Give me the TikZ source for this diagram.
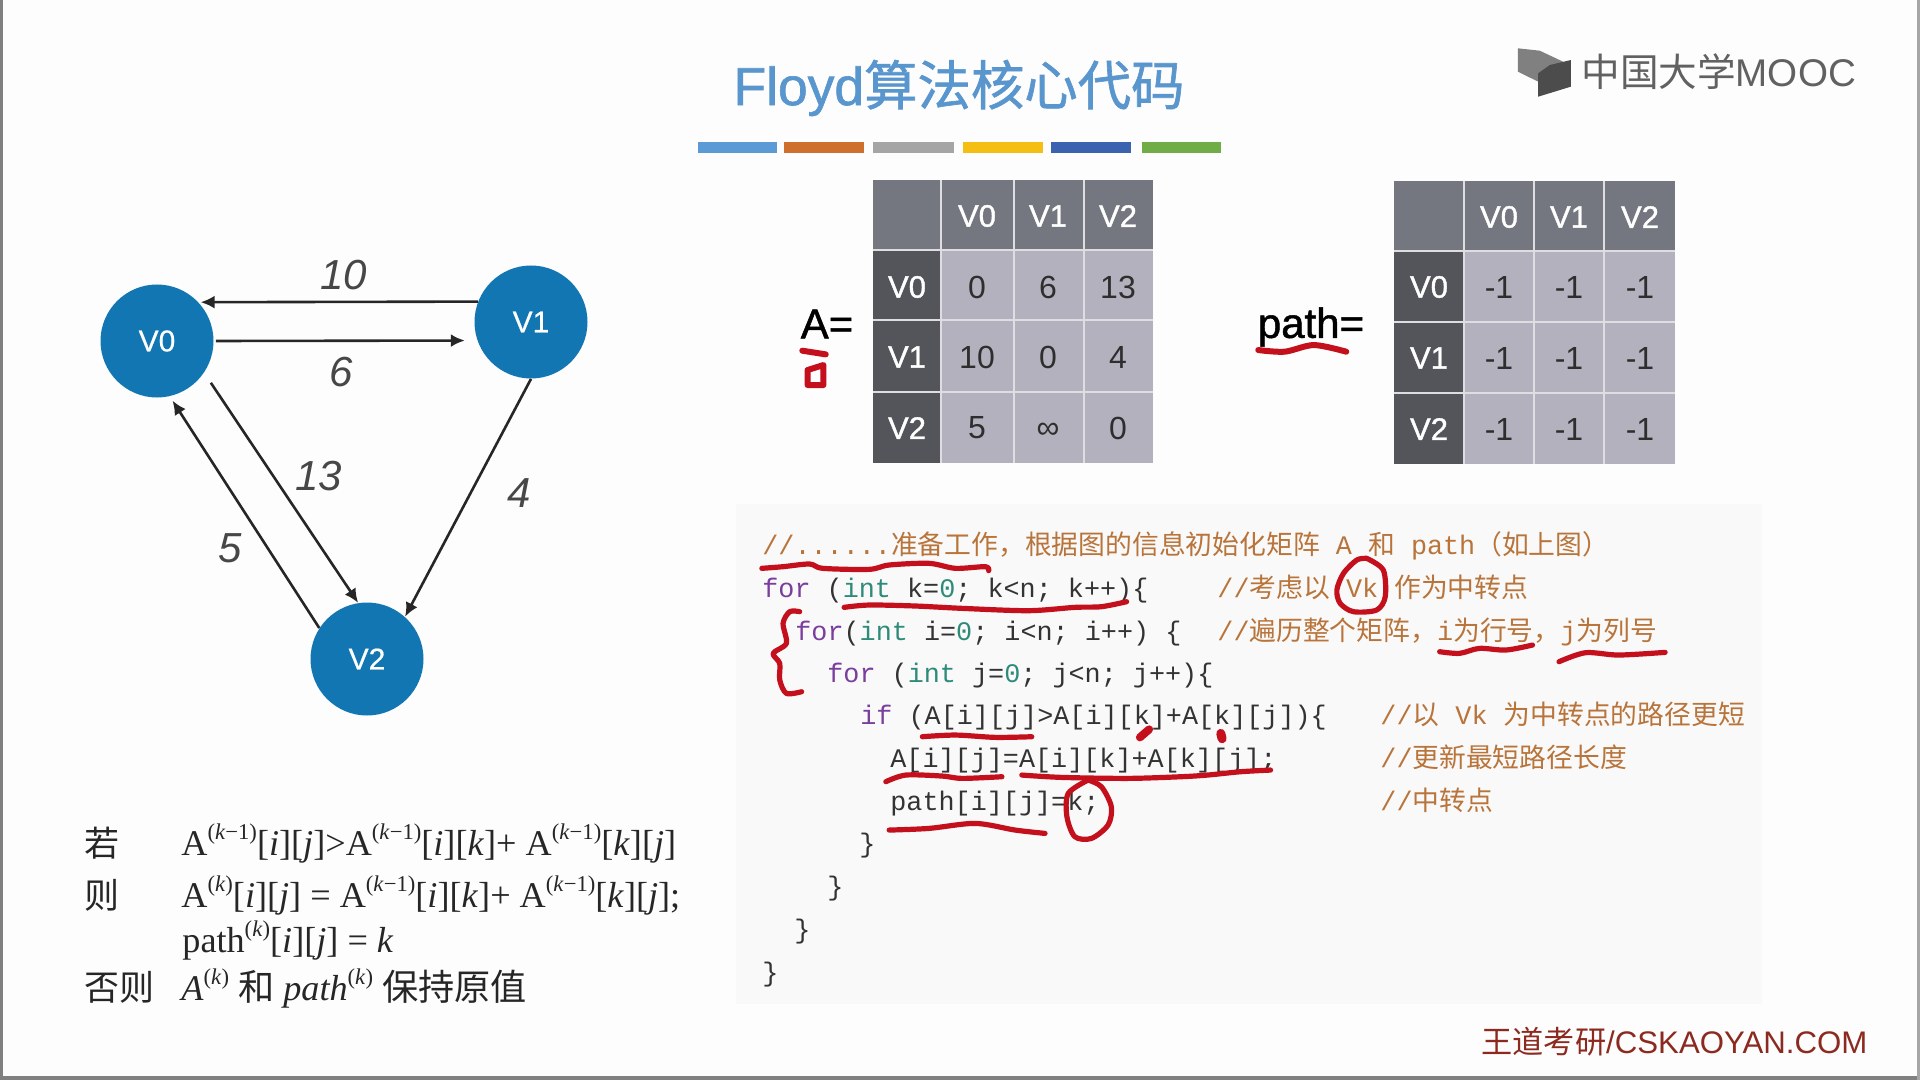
\documentclass[tikz,border=0pt]{standalone}
\usepackage{fontspec}
\setmainfont{Liberation Sans}
\setmonofont{Liberation Mono}
\newfontfamily\cjk{Noto Sans CJK SC}
\newfontfamily\serifface{Liberation Serif}
\newfontfamily\medface[FakeBold=1.2]{Liberation Sans}
\newfontfamily\lightbold[FakeBold=0.6]{Liberation Sans}
\newfontfamily\cjkmed[FakeBold=1.2]{Noto Sans CJK SC}
\usetikzlibrary{arrows.meta}
\definecolor{pagebg}{HTML}{FDFDFD}
\definecolor{codebg}{HTML}{F9F9F9}
\definecolor{nodeblue}{HTML}{1276B2}
\definecolor{titleblue}{HTML}{5A96CE}
\definecolor{headgray}{HTML}{74777F}
\definecolor{rowgray}{HTML}{53555B}
\definecolor{cellgray}{HTML}{B3B1BD}
\definecolor{gridgray}{HTML}{DDDDE2}
\definecolor{ckwc}{HTML}{7A3E9D}
\definecolor{ctyc}{HTML}{2E8B7A}
\definecolor{ccmc}{HTML}{B8743A}
\definecolor{codetext}{HTML}{333333}
\definecolor{inkred}{HTML}{C4101C}
\definecolor{brandred}{HTML}{8C2A20}
\definecolor{barA}{HTML}{5B9BD5}
\definecolor{barB}{HTML}{CF6F2E}
\definecolor{barC}{HTML}{A5A5A5}
\definecolor{barD}{HTML}{F4BF12}
\definecolor{barE}{HTML}{3B62AE}
\definecolor{barF}{HTML}{70AD47}
\newcommand{\ckw}[1]{\textcolor{ckwc}{#1}}
\newcommand{\cty}[1]{\textcolor{ctyc}{#1}}
\newcommand{\cnum}[1]{\textcolor{ctyc}{#1}}
\newcommand{\zh}[1]{{\cjk #1}}
\newcommand{\sps}[1]{\raisebox{0.42em}{\fontsize{11.3}{12}\selectfont #1}}
\newcommand{\supkm}{\sps{(\textit{k}−1)}}
\newcommand{\supkk}{\sps{(\textit{k})}}
\newcommand{\idxij}{[\textit{i}][\textit{j}]}
\newcommand{\idxik}{[\textit{i}][\textit{k}]}
\newcommand{\idxkj}{[\textit{k}][\textit{j}]}
\newcommand{\vtext}[1]{\raisebox{-1.4pt}{#1}}
\tikzset{
  vertex/.style={circle,fill=nodeblue,text=white,inner sep=0pt,minimum size=56.5pt,font=\fontsize{15}{18}\selectfont\lightbold},
  edge/.style={draw=black!85,line width=1.3pt,-{Latex[length=7pt,width=6.5pt]}},
  weight/.style={font=\fontsize{21}{24}\selectfont\itshape,text=black!72,inner sep=0pt},
  hcell/.style={text=white,font=\fontsize{15.5}{18}\selectfont\medface,inner sep=0pt},
  vcell/.style={text=black!82,font=\fontsize{16}{18}\selectfont,inner sep=0pt},
  code/.style={anchor=base west,inner sep=0pt,text=codetext,font=\fontsize{13.4}{16}\selectfont\ttfamily},
  comment/.style={code,text=ccmc},
  formula/.style={anchor=base west,inner sep=0pt,text=black!85,font=\fontsize{18.1}{20}\selectfont\serifface},
  zhlabel/.style={anchor=base west,inner sep=0pt,text=black!85,font=\fontsize{17.5}{20}\selectfont\cjk},
  ink/.style={draw=inkred,line width=2.6pt,line cap=round,line join=round},
  eqlabel/.style={inner sep=0pt,text=black,font=\fontsize{21}{24}\selectfont\medface}
}
\begin{document}
\begin{tikzpicture}[x=0.5pt,y=-0.5pt]
\useasboundingbox (0,0) rectangle (1920,1080);
\fill[pagebg] (0,0) rectangle (1920,1080);
\fill[black!50] (0,0) rectangle (3,1080);
\fill[black!50] (0,1076) rectangle (1920,1080);
\fill[black!35] (1917,0) rectangle (1920,1080);

% title and colour bars
\node[inner sep=0pt,text=titleblue,font=\fontsize{26.7}{30}\selectfont] (title) at (959,88) {\medface Floyd{\cjkmed 算法核心代码}};
\fill[barA] (698,142) rectangle (777,153);
\fill[barB] (784,142) rectangle (864,153);
\fill[barC] (873,142) rectangle (954,153);
\fill[barD] (963,142) rectangle (1043,153);
\fill[barE] (1051,142) rectangle (1131,153);
\fill[barF] (1142,142) rectangle (1221,153);

% logo
\begin{scope}[shift={(680,30)},x=0.389pt,y=-0.1667pt]
\fill[black!50] (1077,55) -- (1105,62) -- (1135,95) -- (1105,130) -- (1103,155) -- (1077,125) -- cycle;
\fill[black!70] (1145,90) -- (1145,170) -- (1103,200) -- (1103,130) -- (1118,105) -- cycle;
\end{scope}
\node[inner sep=0pt,text=black!62,font=\fontsize{19.3}{22}\selectfont,anchor=west] (logo) at (1581,72) {\zh{中国大学}MOOC};

% brand
\node[inner sep=0pt,text=brandred,font=\fontsize{15.6}{20}\selectfont,anchor=west] (brand) at (1481,1042) {\zh{王道考研}/CSKAOYAN.COM};

% graph
\node[vertex] (v0) at (157,341) {\vtext{V0}};
\node[vertex] (v1) at (531,322) {\vtext{V1}};
\node[vertex] (v2) at (367,659) {\vtext{V2}};
\draw[edge,shorten <=1pt,shorten >=6.2pt] (v0.0) -- (v1.199.3);
\draw[edge,shorten >=1pt] (v1.159) -- (v0.43.6);
\draw[edge,shorten <=6pt] (v0.-34.2) -- (v2.99.5);
\draw[edge,shorten >=2.5pt] (v2.147.9) -- (v0.-77);
\draw[edge] (v1.-90) -- (v2.48);
\node[weight] (w10) at (344,275) {10};
\node[weight] (w6) at (341,372) {6};
\node[weight] (w13) at (319,476) {13};
\node[weight] (w5) at (230,548) {5};
\node[weight] (w4) at (519,493) {4};

% matrix A
\fill[cellgray] (873,180) rectangle (1153,463);
\fill[headgray] (873,180) rectangle (1153,250);
\fill[rowgray] (873,250) rectangle (941,463);
\draw[gridgray,line width=0.9pt] (873,250) -- (1153,250) (873,320) -- (1153,320) (873,392) -- (1153,392) (941,180) -- (941,463) (1014,180) -- (1014,463) (1084,180) -- (1084,463);
\node[hcell] (ah0) at (977,216) {V0};
\node[hcell] (ah1) at (1048,216) {V1};
\node[hcell] (ah2) at (1118,216) {V2};
\node[hcell] (ar0) at (907,287) {V0};
\node[hcell] (ar1) at (907,357) {V1};
\node[hcell] (ar2) at (907,428) {V2};
\node[vcell] (a00) at (977,287) {0};
\node[vcell] (a01) at (1048,287) {6};
\node[vcell] (a02) at (1118,287) {13};
\node[vcell] (a10) at (977,357) {10};
\node[vcell] (a11) at (1048,357) {0};
\node[vcell] (a12) at (1118,357) {4};
\node[vcell] (a20) at (977,428) {5};
\node[vcell] (a21) at (1048,431) {∞};
\node[vcell] (a22) at (1118,428) {0};
\node[eqlabel] (aeq) at (827,324) {A=};

% matrix path
\fill[cellgray] (1394,181) rectangle (1675,464);
\fill[headgray] (1394,181) rectangle (1675,251);
\fill[rowgray] (1394,251) rectangle (1464,464);
\draw[gridgray,line width=0.9pt] (1394,251) -- (1675,251) (1394,322) -- (1675,322) (1394,393) -- (1675,393) (1464,181) -- (1464,464) (1534,181) -- (1534,464) (1604,181) -- (1604,464);
\node[hcell] (ph0) at (1499,217) {V0};
\node[hcell] (ph1) at (1569,217) {V1};
\node[hcell] (ph2) at (1640,217) {V2};
\node[hcell] (pr0) at (1429,287) {V0};
\node[hcell] (pr1) at (1429,358) {V1};
\node[hcell] (pr2) at (1429,429) {V2};
\node[vcell] (p00) at (1499,287) {-1};
\node[vcell] (p01) at (1569,287) {-1};
\node[vcell] (p02) at (1640,287) {-1};
\node[vcell] (p10) at (1499,358) {-1};
\node[vcell] (p11) at (1569,358) {-1};
\node[vcell] (p12) at (1640,358) {-1};
\node[vcell] (p20) at (1499,429) {-1};
\node[vcell] (p21) at (1569,429) {-1};
\node[vcell] (p22) at (1640,429) {-1};
\node[eqlabel] (peq) at (1311,327) {path=};

% code
\fill[codebg] (736,504) rectangle (1762,1004);
\node[comment] (c1) at (762,554) {//......\zh{准备工作，根据图的信息初始化矩阵}\ A\ \zh{和}\ path\zh{（如上图）}};
\node[code] (c2) at (762,597) {\ckw{for}\ (\cty{int}\ k=\cnum{0};\ k<n;\ k++)\{};
\node[comment] (c2c) at (1217,597) {//\zh{考虑以}\ Vk\ \zh{作为中转点}};
\node[code] (c3) at (795,640) {\ckw{for}(\cty{int}\ i=\cnum{0};\ i<n;\ i++)\ \{};
\node[comment] (c3c) at (1217,640) {//\zh{遍历整个矩阵，}i\zh{为行号，}j\zh{为列号}};
\node[code] (c4) at (827,682) {\ckw{for}\ (\cty{int}\ j=\cnum{0};\ j<n;\ j++)\{};
\node[code] (c5) at (860,724) {\ckw{if}\ (A[i][j]>A[i][k]+A[k][j])\{};
\node[comment] (c5c) at (1380,724) {//\zh{以}\ Vk\ \zh{为中转点的路径更短}};
\node[code] (c6) at (890,767) {A[i][j]=A[i][k]+A[k][j];};
\node[comment] (c6c) at (1380,767) {//\zh{更新最短路径长度}};
\node[code] (c7) at (890,810) {path[i][j]=k;};
\node[comment] (c7c) at (1380,810) {//\zh{中转点}};
\node[code] (c8) at (859,852) {\}};
\node[code] (c9) at (827,895) {\}};
\node[code] (c10) at (794,938) {\}};
\node[code] (c11) at (762,981) {\}};

% formulas
\node[zhlabel] (f1l) at (84,856) {若};
\node[formula] (f1) at (181,855) {A\supkm\idxij>A\supkm\idxik+ A\supkm\idxkj};
\node[zhlabel] (f2l) at (84,908) {则};
\node[formula] (f2) at (181,907) {A\supkk\idxij\ = A\supkm\idxik+ A\supkm\idxkj;};
\node[formula] (f3) at (182,952) {path\supkk\idxij\ = \textit{k}};
\node[zhlabel] (f4l) at (84,1000) {否则};
\node[formula] (f4) at (181,1000) {\textit{A}\supkk\ \zh{和}\ \textit{path}\supkk\ \zh{保持原值}};

% red handwriting, crop of the code block
\begin{scope}[shift={(730,500)},x=0.3316pt,y=-0.1667pt]
\draw[ink] plot[smooth] coordinates {(48,205) (80,200) (120,192) (140,205) (210,208) (240,195) (300,190) (340,205) (385,200) (390,212)};
\draw[ink] plot[smooth] coordinates {(172,322) (210,315) (280,318) (350,325) (450,332) (520,322) (560,320) (598,305)};
\draw[ink] plot[smooth] coordinates {(960,175) (985,210) (988,290) (975,330) (940,335) (920,310) (915,270) (925,220) (945,180) (960,175)};
\draw[ink] plot[smooth] coordinates {(105,335) (90,335) (80,370) (85,430) (65,460) (75,490) (75,540) (85,580) (108,575)};
\draw[ink] plot[smooth] coordinates {(1070,455) (1100,460) (1130,445) (1170,450) (1210,435)};
\draw[ink] plot[smooth] coordinates {(1250,485) (1290,458) (1340,465) (1410,457)};
\draw[ink] plot[smooth] coordinates {(290,710) (340,705) (400,712) (455,710)};
\draw[ink,line width=4pt] (618,712) -- (632,688);
\draw[ink,line width=4.5pt] (740,700) -- (742,716);
\draw[ink] plot[smooth] coordinates {(235,845) (265,825) (320,828) (350,835) (410,830)};
\draw[ink] plot[smooth] coordinates {(440,825) (500,832) (600,835) (680,830) (720,825) (770,815) (815,810)};
\draw[ink] plot[smooth] coordinates {(240,990) (300,985) (370,970) (430,990) (475,1000)};
\draw[ink] plot[smooth] coordinates {(540,840) (510,880) (508,950) (520,1010) (545,1015) (570,975) (575,920) (560,860) (540,840)};
\end{scope}
% red handwriting, crop of the matrices
\begin{scope}[shift={(780,170)},x=0.2934pt,y=-0.1667pt]
\draw[ink,line width=3pt] (38,542) -- (78,553);
\draw[ink,line width=3pt] (47,600) -- (74,585) -- (74,645) -- (47,645) -- cycle;
\draw[ink,line width=3pt] plot[smooth] coordinates {(815,540) (860,545) (910,525) (965,545)};
\end{scope}
\end{tikzpicture}
\end{document}
